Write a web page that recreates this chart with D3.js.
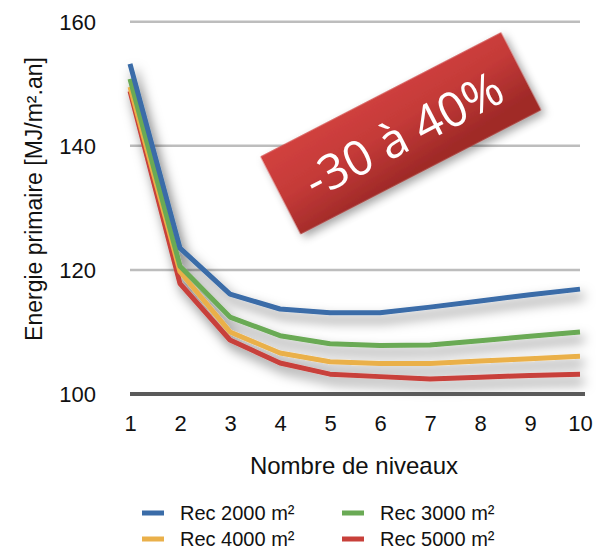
<!DOCTYPE html>
<html><head><meta charset="utf-8">
<script src="https://cdn.jsdelivr.net/npm/d3@7"></script>
<style>
body{margin:0;background:#fff;}
svg{display:block;font-family:"Liberation Sans",Arial,Helvetica,sans-serif;}
</style></head>
<body><svg id="chart" width="596" height="551"></svg>
<script>
const niveaux = [1,2,3,4,5,6,7,8,9,10];
const rec2000 = [153.2,123.5,116.1,113.7,113.1,113.1,114.0,115.0,116.0,116.9];
const rec3000 = [150.8,120.6,112.4,109.4,108.1,107.8,107.9,108.6,109.3,110.0];
const rec4000 = [149.5,119.7,110.0,106.6,105.2,104.9,104.9,105.3,105.7,106.1];
const rec5000 = [148.8,117.8,108.7,105.0,103.2,102.8,102.4,102.7,103.0,103.2];
const seriesNames = ["Rec 2000 m²","Rec 3000 m²","Rec 4000 m²","Rec 5000 m²"];
const seriesColors = ["#3a6ca8","#6aaa55","#eab04a","#c8403a"];
const yTicks = [100,120,140,160];
const badgeText = "-30 à 40%";

const svg = d3.select("#chart");
const x = d3.scaleLinear().domain([1,10]).range([130,580]);
const y = d3.scaleLinear().domain([100,160]).range([394,21.7]);

const defs = svg.append("defs");
const f = defs.append("filter").attr("id","shadow").attr("x","-20%").attr("y","-20%").attr("width","140%").attr("height","150%");
f.append("feDropShadow").attr("dx",4).attr("dy",7).attr("stdDeviation",6).attr("flood-color","#000").attr("flood-opacity",0.5);
const f2 = defs.append("filter").attr("id","bshadow").attr("x","-20%").attr("y","-20%").attr("width","140%").attr("height","150%");
f2.append("feDropShadow").attr("dx",2).attr("dy",5).attr("stdDeviation",4).attr("flood-color","#000").attr("flood-opacity",0.35);
const grad = defs.append("linearGradient").attr("id","bgrad").attr("x1","0").attr("y1","0").attr("x2","0.3").attr("y2","1");
grad.append("stop").attr("offset","0").attr("stop-color","#d2413f");
grad.append("stop").attr("offset","0.5").attr("stop-color","#c43a38");
grad.append("stop").attr("offset","1").attr("stop-color","#a02a28");

// gridlines
svg.append("g").selectAll("line").data(yTicks.filter(d=>d!==100)).join("line")
  .attr("x1",x(1)).attr("x2",x(10)).attr("y1",d=>y(d)).attr("y2",d=>y(d))
  .attr("stroke","#bdbdbd").attr("stroke-width",2.5);

// y axis
const yAxis = d3.axisLeft(y).tickValues(yTicks).tickSize(0).tickPadding(0);
const gy = svg.append("g").attr("transform","translate(96,0)").call(yAxis);
gy.select(".domain").remove();
gy.selectAll("text").attr("font-size",22).attr("fill","#111").attr("font-family","Liberation Sans, Arial, sans-serif").attr("dy","0.35em").attr("x",0);

// x axis
const xAxis = d3.axisBottom(x).tickValues(niveaux).tickSize(0).tickPadding(0);
const gx = svg.append("g").attr("transform","translate(0,415)").call(xAxis);
gx.select(".domain").remove();
gx.selectAll("text").attr("font-size",22).attr("fill","#111").attr("font-family","Liberation Sans, Arial, sans-serif").attr("dy","0.72em");

// lines
const allSeries = [rec2000,rec3000,rec4000,rec5000];
const line = d3.line().x((d,i)=>x(niveaux[i])).y(d=>y(d));
const lg = svg.append("g").attr("filter","url(#shadow)");
lg.selectAll("path").data(allSeries.slice().reverse()).join("path")
  .attr("d",line).attr("fill","none")
  .attr("stroke",(d,i)=>seriesColors[3-i]).attr("stroke-width",5).attr("stroke-linejoin","round");

// baseline
svg.append("line").attr("x1",x(1)).attr("x2",585).attr("y1",y(100)).attr("y2",y(100))
  .attr("stroke","#5a5a5a").attr("stroke-width",4);

// axis titles
svg.append("text").attr("x",354).attr("y",474).attr("text-anchor","middle").attr("font-size",24).attr("fill","#111").text("Nombre de niveaux");
svg.append("text").attr("transform","translate(42,199) rotate(-90)").attr("text-anchor","middle").attr("font-size",23).attr("fill","#111").text("Energie primaire [MJ/m².an]");

// legend
const legPos = [[142,513],[342,513],[142,539],[342,539]];
const leg = svg.append("g");
seriesNames.forEach((n,i)=>{
  const [lx,ly] = legPos[i];
  leg.append("rect").attr("x",lx).attr("y",ly-2.5).attr("width",22).attr("height",5).attr("fill",seriesColors[i]);
  leg.append("text").attr("x",lx+38).attr("y",ly).attr("dy","0.35em").attr("font-size",20).attr("fill","#111").text(n);
});

// badge
const badge = svg.append("g").attr("transform","translate(400.8,133.3) rotate(-27.3)");
badge.append("rect").attr("x",-135.4).attr("y",-43.75).attr("width",270.8).attr("height",87.5)
  .attr("fill","url(#bgrad)").attr("filter","url(#bshadow)");
badge.append("text").attr("x",2).attr("y",2).attr("dy","0.36em").attr("text-anchor","middle")
  .attr("font-family","Open Sans, sans-serif").attr("font-size",48).attr("fill","#fff").text(badgeText);
</script></body></html>
